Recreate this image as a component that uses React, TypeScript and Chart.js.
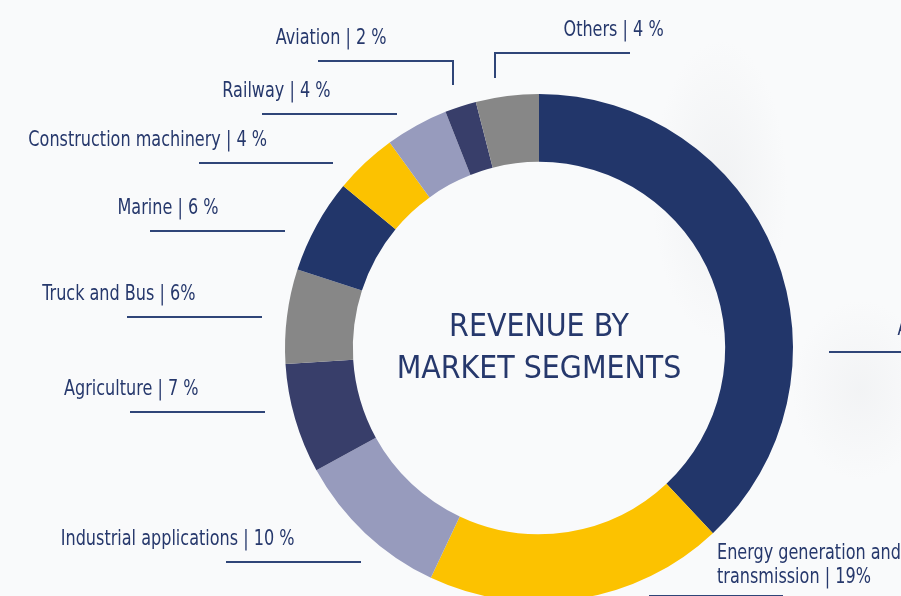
import React, { useEffect, useRef } from "react";
import { Chart, registerables } from "chart.js";

Chart.register(...registerables);

// ---- data ----
const categories = [
  "Automotive",
  "Energy generation and transmission",
  "Industrial applications",
  "Agriculture",
  "Truck and Bus",
  "Marine",
  "Construction machinery",
  "Railway",
  "Aviation",
  "Others",
];
const shares = [38, 19, 10, 7, 6, 6, 4, 4, 2, 4];
const labelTexts = [
  ["Automotive | 38 %"],
  ["Energy generation and", "transmission | 19%"],
  ["Industrial applications | 10 %"],
  ["Agriculture | 7 %"],
  ["Truck and Bus | 6%"],
  ["Marine | 6 %"],
  ["Construction machinery | 4 %"],
  ["Railway | 4 %"],
  ["Aviation | 2 %"],
  ["Others | 4 %"],
];
const centerTitle = ["REVENUE BY", "MARKET SEGMENTS"];

// ---- styles ----
const NAVY = "#22366a";
const YELLOW = "#fcc200";
const LAVENDER = "#979bbd";
const SLATE = "#383e6a";
const GREY = "#878787";
const segmentColors = [NAVY, YELLOW, LAVENDER, SLATE, GREY, NAVY, YELLOW, LAVENDER, SLATE, GREY];
const TEXT_COLOR = "#26386c";
const LINE_COLOR = "#2f4578";
const FONT = '"Liberation Sans Narrow", "DejaVu Sans Condensed", "Roboto", sans-serif';

// label leader layout, offsets from doughnut centre (px): x1, x2, y, side, optional drop
type LabelLayout = { x1: number; x2: number; y: number; side: "left" | "right"; dropX?: number; dropTo?: number };
const labelLayout: LabelLayout[] = [
  { x1: 290, x2: 425, y: 4, side: "right" },
  { x1: 110, x2: 244, y: 248, side: "right" },
  { x1: -313, x2: -178, y: 214, side: "left" },
  { x1: -409, x2: -274, y: 64, side: "left" },
  { x1: -412, x2: -277, y: -31, side: "left" },
  { x1: -389, x2: -254, y: -117, side: "left" },
  { x1: -340, x2: -206, y: -185, side: "left" },
  { x1: -277, x2: -142, y: -234, side: "left" },
  { x1: -221, x2: -86, y: -287, side: "left", dropX: -86, dropTo: -263 },
  { x1: -44, x2: 91, y: -295, side: "right", dropX: -44, dropTo: -270 },
];

function fillScaled(ctx: CanvasRenderingContext2D, text: string, x: number, y: number, align: CanvasTextAlign, sx: number) {
  ctx.save();
  ctx.translate(x, y);
  ctx.scale(sx, 1);
  ctx.textAlign = align;
  ctx.fillText(text, 0, 0);
  ctx.restore();
}

const labelPlugin = {
  id: "segmentLabels",
  afterDraw(chart: any) {
    const meta = chart.getDatasetMeta(0);
    const arc = meta.data[0];
    if (!arc) return;
    const cx = arc.x;
    const cy = arc.y;
    const ctx: CanvasRenderingContext2D = chart.ctx;
    ctx.save();
    ctx.fillStyle = TEXT_COLOR;
    ctx.textBaseline = "alphabetic";
    // centre title
    ctx.font = `32px ${FONT}`;
    fillScaled(ctx, centerTitle[0], cx, cy - 12, "center", 0.99);
    fillScaled(ctx, centerTitle[1], cx, cy + 30, "center", 0.99);

    ctx.font = `21px ${FONT}`;
    labelLayout.forEach((l, i) => {
      ctx.strokeStyle = LINE_COLOR;
      ctx.lineWidth = 2;
      ctx.beginPath();
      ctx.moveTo(cx + l.x1, cy + l.y);
      ctx.lineTo(cx + l.x2, cy + l.y);
      ctx.stroke();
      if (l.dropX !== undefined && l.dropTo !== undefined) {
        ctx.beginPath();
        ctx.moveTo(cx + l.dropX, cy + l.y - 1);
        ctx.lineTo(cx + l.dropX, cy + l.dropTo);
        ctx.stroke();
      }
      const mid = cx + (l.x1 + l.x2) / 2;
      const lines = labelTexts[i];
      const align: CanvasTextAlign = l.side === "left" ? "right" : "left";
      lines.forEach((t, k) => {
        const baseline = lines.length > 1 ? cy + l.y - 13 - (lines.length - 1 - k) * 24 : cy + l.y - 17;
        fillScaled(ctx, t, mid + 1, baseline, align, 0.85);
      });
    });
    ctx.restore();
  },
};

export default function App() {
  const ref = useRef<HTMLCanvasElement | null>(null);
  useEffect(() => {
    document.body.style.margin = "0";
    const canvas = ref.current;
    if (!canvas) return;
    const chart = new Chart(canvas, {
      type: "doughnut",
      data: {
        labels: categories,
        datasets: [
          {
            data: shares,
            backgroundColor: segmentColors,
            borderWidth: 0,
            hoverOffset: 0,
          },
        ],
      },
      options: {
        responsive: false,
        animation: false,
        devicePixelRatio: 1,
        cutout: "73.3%",
        rotation: 0,
        layout: { padding: { left: 285, right: 108, top: 94, bottom: 98 } },
        plugins: {
          legend: { display: false },
          tooltip: { enabled: false },
        },
        events: [],
      },
      plugins: [labelPlugin],
    });
    return () => chart.destroy();
  }, []);

  return (
    <div
      style={{
        position: "fixed",
        left: 0,
        top: 0,
        width: 901,
        height: 596,
        overflow: "hidden",
        background:
          "radial-gradient(ellipse 90px 200px at 720px 190px, rgba(215,217,220,0.25), rgba(255,255,255,0) 75%), radial-gradient(ellipse 90px 120px at 860px 390px, rgba(215,217,220,0.2), rgba(255,255,255,0) 75%), #f9fafb",
      }}
    >
      <canvas ref={ref} width={901} height={700} style={{ display: "block", width: 901, height: 700 }} />
    </div>
  );
}
